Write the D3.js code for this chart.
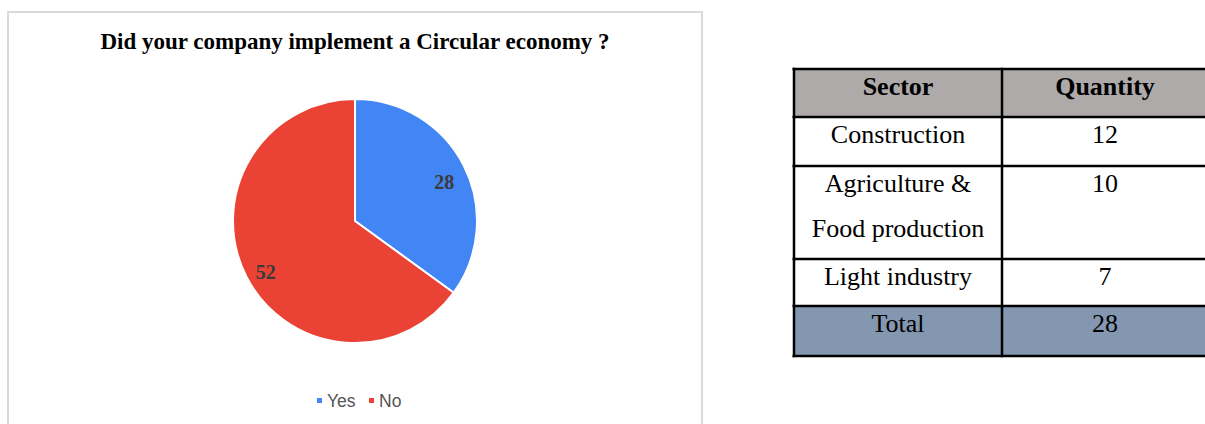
<!DOCTYPE html>
<html>
<head>
<meta charset="utf-8">
<script src="https://cdn.jsdelivr.net/npm/d3@7"></script>
<style>
  html, body { margin: 0; padding: 0; background: #fff; }
  svg { display: block; }
</style>
</head>
<body>
<svg id="chart" width="1205" height="424"></svg>
<script>
// Survey answers for the pie
const answers = ["Yes", "No"];
const answerCounts = [28, 52];
const answerColors = ["#4285F4", "#EA4335"];

// Companies that implemented it, by sector
const tableHeaders = ["Sector", "Quantity"];
const sectors = [["Construction"], ["Agriculture &", "Food production"], ["Light industry"]];
const sectorQuantities = [12, 10, 7];
const totalRow = ["Total", 28];

const svg = d3.select("#chart");
const serif = "'Liberation Serif', 'Times New Roman', serif";

// ---- Chart frame ----
svg.append("rect")
  .attr("x", 8).attr("y", 12)
  .attr("width", 694).attr("height", 430)
  .attr("fill", "#fff")
  .attr("stroke", "#d9d9d9").attr("stroke-width", 2);

svg.append("text")
  .attr("x", 355).attr("y", 48.5)
  .attr("text-anchor", "middle")
  .attr("font-family", serif)
  .attr("font-weight", "bold")
  .attr("font-size", 23)
  .attr("fill", "#000")
  .text("Did your company implement a Circular economy ?");

// ---- Pie ----
const cx = 355, cy = 221, radius = 122;
const pie = d3.pie().sort(null).value(d => d.value);
const slices = pie(answers.map((a, i) => ({ label: a, value: answerCounts[i], color: answerColors[i] })));
const arc = d3.arc().innerRadius(0).outerRadius(radius);
const labelArc = d3.arc().innerRadius(radius * 0.82).outerRadius(radius * 0.82);

const pieG = svg.append("g").attr("transform", `translate(${cx},${cy})`);
pieG.selectAll("path")
  .data(slices)
  .join("path")
  .attr("d", arc)
  .attr("fill", d => d.data.color)
  .attr("stroke", "#fff")
  .attr("stroke-width", 2)
  .attr("stroke-linejoin", "round");

pieG.selectAll("text")
  .data(slices)
  .join("text")
  .attr("transform", d => {
    const [x, y] = labelArc.centroid(d);
    return `translate(${x},${y + 6})`;
  })
  .attr("text-anchor", "middle")
  .attr("dy", "0.35em")
  .attr("font-family", serif)
  .attr("font-weight", "bold")
  .attr("font-size", 20)
  .attr("fill", "#3a3a3a")
  .text(d => d.data.value);

// ---- Legend ----
const legendX = [317, 369];
const legend = svg.append("g");
answers.forEach((a, i) => {
  const g = legend.append("g").attr("transform", `translate(${legendX[i]},398)`);
  g.append("rect").attr("width", 5).attr("height", 5).attr("fill", answerColors[i]);
  g.append("text")
    .attr("x", 10).attr("y", 8.5)
    .attr("font-family", "'Liberation Sans', Arial, sans-serif")
    .attr("font-size", 17.5)
    .attr("fill", "#555")
    .text(a);
});

// ---- Table ----
const tableX = 794, tableRight = 1215, colSplit = 1002;
const headerTop = 69, lineH = 45;
const rowHeights = [48, 49, 93, 47, 50];

const rows = [
  { cells: [[tableHeaders[0]], [tableHeaders[1]]], bold: true, fill: "#aeaaaa" },
  ...sectors.map((s, i) => ({ cells: [s, [String(sectorQuantities[i])]], bold: false, fill: "#fff" })),
  { cells: [[totalRow[0]], [String(totalRow[1])]], bold: false, fill: "#8497b0" }
];

let yPos = headerTop;
rows.forEach((r, i) => {
  r.y = yPos;
  r.h = rowHeights[i];
  yPos += r.h;
});
const tableBottom = yPos;

const table = svg.append("g");
table.selectAll("rect.row")
  .data(rows)
  .join("rect")
  .attr("class", "row")
  .attr("x", tableX).attr("y", d => d.y)
  .attr("width", tableRight - tableX).attr("height", d => d.h)
  .attr("fill", d => d.fill);

const colCenters = [(tableX + colSplit) / 2, 1105];
rows.forEach(r => {
  r.cells.forEach((lines, ci) => {
    lines.forEach((t, li) => {
      table.append("text")
        .attr("x", colCenters[ci])
        .attr("y", r.y + 26 + li * lineH)
        .attr("text-anchor", "middle")
        .attr("font-family", serif)
        .attr("font-weight", r.bold ? "bold" : "normal")
        .attr("font-size", 26)
        .attr("fill", "#000")
        .text(t);
    });
  });
});

// grid lines
const hLines = rows.map(r => r.y).concat([tableBottom]);
table.selectAll("line.h")
  .data(hLines)
  .join("line")
  .attr("class", "h")
  .attr("x1", tableX - 1.5).attr("x2", tableRight)
  .attr("y1", d => d).attr("y2", d => d)
  .attr("stroke", "#000").attr("stroke-width", 2.5);
table.selectAll("line.v")
  .data([tableX, colSplit])
  .join("line")
  .attr("class", "v")
  .attr("x1", d => d).attr("x2", d => d)
  .attr("y1", headerTop - 1.25).attr("y2", tableBottom + 1.25)
  .attr("stroke", "#000").attr("stroke-width", 2.5);
</script>
</body>
</html>
